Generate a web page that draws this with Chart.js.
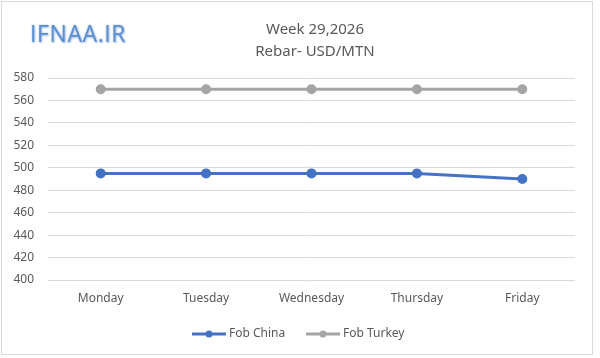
<!DOCTYPE html>
<html><head><meta charset="utf-8">
<script src="https://cdn.jsdelivr.net/npm/chart.js@4/dist/chart.umd.min.js"></script>
<style>
html,body{margin:0;padding:0;background:#fff;}
#wrap{position:relative;width:600px;height:358px;}
#frame{position:absolute;left:1px;top:1px;width:592px;height:354px;border:1px solid #d9d9d9;box-sizing:border-box;pointer-events:none;}
#wm{position:absolute;left:30px;top:17px;font-family:"Open Sans",sans-serif;font-size:23px;color:#5b8fd0;letter-spacing:0.6px;text-shadow:0 0 2px #9bb8e0,1px 1px 2px #b0c4de;}
</style></head>
<body>
<div id="wrap"><canvas id="c" width="600" height="358"></canvas><div id="frame"></div><div id="wm">IFNAA.IR</div></div>
<script>
const categories = ["Monday","Tuesday","Wednesday","Thursday","Friday"];
const fobChina = [495,495,495,495,490];
const fobTurkey = [570,570,570,570,570];
const titleLines = ["Week 29,2026","Rebar- USD/MTN"];
const seriesNames = ["Fob China","Fob Turkey"];
const colors = ["#4472C4","#A5A5A5"];
const FONT = "'Noto Sans', sans-serif";

const customDraw = {
  id:'customDraw',
  afterDraw(chart){
    const ctx = chart.ctx;
    ctx.save();
    ctx.fillStyle = '#595959';
    ctx.font = "15px " + FONT;
    ctx.textAlign = 'center';
    ctx.textBaseline = 'middle';
    ctx.fillText(titleLines[0], 315, 30);
    ctx.fillText(titleLines[1], 315, 52);
    // legend
    const items = [{x:192}, {x:306}];
    ctx.font = "12px " + FONT;
    ctx.textAlign = 'left';
    items.forEach((it,i)=>{
      const y = 334;
      ctx.strokeStyle = colors[i]; ctx.lineWidth = 3;
      ctx.beginPath(); ctx.moveTo(it.x, y); ctx.lineTo(it.x+34, y); ctx.stroke();
      ctx.fillStyle = colors[i];
      ctx.beginPath(); ctx.arc(it.x+17, y, 3.5, 0, Math.PI*2); ctx.fill();
      ctx.fillStyle = '#595959';
      ctx.fillText(seriesNames[i], it.x+37, y);
    });
    ctx.restore();
  }
};

new Chart(document.getElementById('c'), {
  type:'line',
  data:{
    labels: categories,
    datasets:[
      {label:seriesNames[0], data:fobChina, borderColor:colors[0], backgroundColor:colors[0], borderWidth:3, pointRadius:3.5, pointHoverRadius:3.5, tension:0},
      {label:seriesNames[1], data:fobTurkey, borderColor:colors[1], backgroundColor:colors[1], borderWidth:3, pointRadius:3.5, pointHoverRadius:3.5, tension:0}
    ]
  },
  options:{
    responsive:false, animation:false,
    layout:{padding:{left:10, right:25, top:78, bottom:38}},
    plugins:{legend:{display:false}, title:{display:false}, tooltip:{enabled:false}},
    scales:{
      x:{
        offset:true,
        grid:{display:false, drawTicks:false},
        border:{display:false},
        ticks:{color:'#595959', font:{family:FONT, size:12}, padding:11},
        afterFit(s){ s.height = 40; }
      },
      y:{
        min:400, max:580,
        grid:{color:'#d9d9d9', drawTicks:false, lineWidth:1},
        border:{display:false},
        ticks:{stepSize:20, color:'#595959', font:{family:FONT, size:12}, padding:14},
        afterFit(s){ s.width = 38; }
      }
    }
  },
  plugins:[customDraw]
});
</script>
</body></html>
